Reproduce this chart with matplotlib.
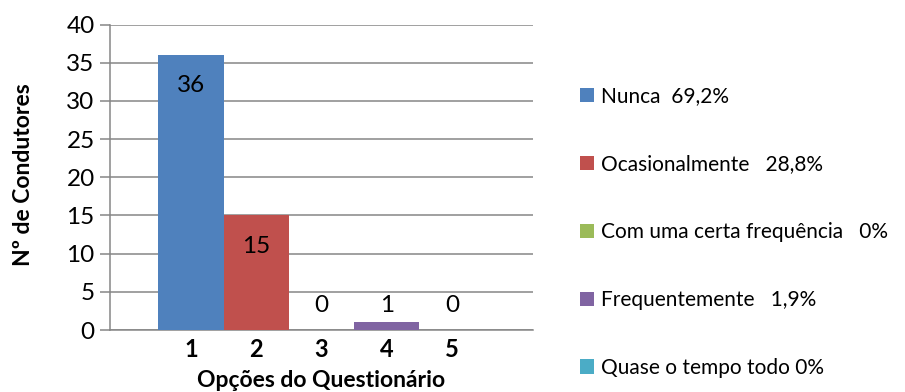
import matplotlib.pyplot as plt

# survey data
options = ["1", "2", "3", "4", "5"]
counts = [36, 15, 0, 1, 0]
legend_labels = ["Nunca  69,2%", "Ocasionalmente   28,8%",
                 "Com uma certa frequência   0%", "Frequentemente   1,9%",
                 "Quase o tempo todo 0%"]
colors = ["#4F81BD", "#C0504D", "#9BBB59", "#8064A2", "#4BACC6"]
yticks = [0, 5, 10, 15, 20, 25, 30, 35, 40]

plt.rcParams['font.family'] = ['Lato', 'DejaVu Sans']
grid_col = "#868686"

fig = plt.figure(figsize=(9.05, 3.92), dpi=100)
ax = fig.add_axes([0.1215, 0.158, 0.4675, 0.7795])

x = list(range(1, len(options) + 1))
bars = []
for xi, c, col in zip(x, counts, colors):
    b = ax.bar(xi, c, width=1.0, color=col, zorder=3)
    bars.append(b[0])
    if c > 5:
        ax.annotate(str(c), (xi, c), xytext=(0, -22), textcoords='offset points',
                    ha='center', va='center', fontsize=17.5, zorder=4)
    else:
        ax.annotate(str(c), (xi, 0), xytext=(0, 18), textcoords='offset points',
                    ha='center', va='center', fontsize=17.5, zorder=4)

ax.set_xlim(-0.24, 6.24)
ax.set_ylim(0, 40)
ax.set_yticks(yticks)
ax.set_xticks(x)
ax.set_xticklabels(options, fontweight='bold')
ax.tick_params(axis='y', labelsize=17.5, direction='out', length=7, width=1.1,
               color=grid_col, pad=4)
ax.tick_params(axis='x', labelsize=17, length=0, pad=6)

ax.grid(axis='y', color=grid_col, linewidth=1.1, zorder=0)
for s in ['top', 'right']:
    ax.spines[s].set_visible(False)
for s in ['left', 'bottom']:
    ax.spines[s].set_color(grid_col)
    ax.spines[s].set_linewidth(1.1)

ax.set_ylabel("Nº de Condutores", fontsize=16.5, fontweight='bold')
ax.yaxis.set_label_coords(-0.18, 0.51)
ax.set_xlabel("Opções do Questionário", fontsize=16.5, fontweight='bold', labelpad=6)

fig.legend(handles=bars, labels=legend_labels, loc='upper left',
           bbox_to_anchor=(0.641, 0.78), frameon=False, fontsize=15,
           handlelength=0.68, handleheight=0.68, handletextpad=0.3,
           labelspacing=2.3, borderpad=0, borderaxespad=0)

fig.savefig("out.png", dpi=100)
